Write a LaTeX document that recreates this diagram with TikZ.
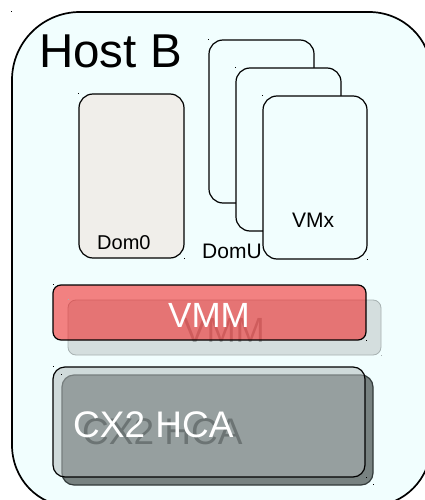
\documentclass[tikz,border=0pt]{standalone}
\usepackage{fontspec}
\setmainfont{Liberation Sans}
\definecolor{hostbg}{RGB}{241,254,254}
\definecolor{domzero}{RGB}{240,238,234}
\definecolor{vmmred}{RGB}{243,40,40}
\definecolor{vmmshadow}{RGB}{212,222,222}
\definecolor{vmmshadowline}{RGB}{168,178,178}
\definecolor{vmmshadowtext}{RGB}{158,166,166}
\definecolor{hcaback}{RGB}{120,130,129}
\definecolor{hcafront}{RGB}{178,186,186}
\definecolor{hcabackline}{RGB}{50,58,58}
\definecolor{hcashadowtext}{RGB}{30,38,38}
\begin{document}
\begin{tikzpicture}[x=1pt,y=-1pt,
  lbl/.style={inner sep=0pt, anchor=base west},
  lblc/.style={inner sep=0pt, anchor=base},
  hostline/.style={line width=1.7pt, fill=hostbg},
  vmbox/.style={line width=1.2pt, rounded corners=14pt},
  dot/.style={fill=black}]
\useasboundingbox (0,0) rectangle (424,500);
% host frame
\draw[hostline] (12,80) .. controls (12,42.4) and (42.4,12) .. (80,12)
  -- (369,12) .. controls (403.2,12) and (431,38.9) .. (431,72)
  -- (431,445) .. controls (431,478.7) and (404,506) .. (371,506)
  -- (70,506) .. controls (38,506) and (12,478.7) .. (12,445) -- cycle;
\node[lbl, font=\fontsize{47.5}{47.5}\selectfont] (host) at (39,68) {Host B};
% Dom0
\draw[vmbox, fill=domzero] (79,94) rectangle (184,258);
\node[lbl, font=\fontsize{20}{20}\selectfont] (dom0) at (97,249) {Dom0};
% DomU stack
\draw[vmbox, fill=hostbg] (209,40) rectangle (314,203);
\draw[vmbox, fill=hostbg] (236,68) rectangle (341,231);
\node[lbl, font=\fontsize{21}{21}\selectfont] (domu) at (202,258) {DomU};
\draw[vmbox, fill=hostbg] (263,96) rectangle (367,259);
\node[lbl, font=\fontsize{21}{21}\selectfont] (vmx) at (292,227) {VMx};
% VMM
\draw[line width=0.8pt, draw=vmmshadowline, fill=vmmshadow, rounded corners=8pt] (68,300) rectangle (381,355);
\node[lblc, font=\fontsize{35}{35}\selectfont, text=vmmshadowtext] (vmmsh) at (224,342) {VMM};
\draw[line width=1.2pt, fill=vmmred, fill opacity=0.58, rounded corners=8pt] (53,285) rectangle (366,340);
\node[lblc, font=\fontsize{35}{35}\selectfont, text=white] (vmm) at (209,327) {VMM};
% CX2 HCA
\draw[line width=1.2pt, draw=hcabackline, fill=hcaback, rounded corners=12pt] (62,375) rectangle (373,485);
\node[lbl, font=\fontsize{37}{37}\selectfont, text=hcashadowtext] (hcash) at (82,444) {CX2 HCA};
\draw[line width=1.2pt, fill=hcafront, fill opacity=0.53, rounded corners=12pt] (53,367) rectangle (365,477);
\node[lbl, font=\fontsize{37}{37}\selectfont, text=white] (hca) at (73,437) {CX2 HCA};
% corner marks
\foreach \p in {(11,11),(78,93),(184,258),(208,39),(235,67),(262,95),(367,259),(53,284),(366,340),(53,366),(61,374),(366,477),(373,484)}
  \fill[dot] \p rectangle ++(1.4,1.4);
\foreach \p in {(68,299),(381,355)}
  \fill[vmmshadowline] \p rectangle ++(1.4,1.4);
\end{tikzpicture}
\end{document}
